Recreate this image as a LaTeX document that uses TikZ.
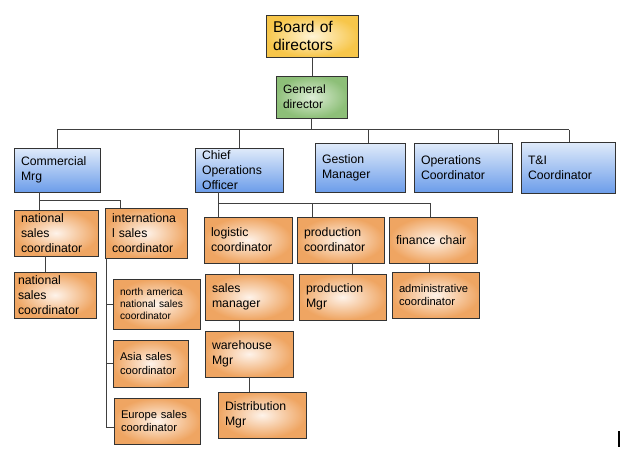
\documentclass[tikz,border=0pt]{standalone}
\usepackage{fontspec}
\setmainfont{Liberation Sans}
\usetikzlibrary{positioning}
\definecolor{yelIn}{HTML}{FFF4D6}
\definecolor{yelOut}{HTML}{F7C64A}
\definecolor{grnIn}{HTML}{DDEDD6}
\definecolor{grnOut}{HTML}{8DBF78}
\definecolor{bluTop}{HTML}{E0EBFA}
\definecolor{bluBot}{HTML}{6C9DEA}
\definecolor{orgIn}{HTML}{FEF3EA}
\definecolor{orgOut}{HTML}{EFA562}

\begin{document}
\begin{tikzpicture}[x=1pt,y=-1pt,
  box/.style n args={3}{draw=black!80, line width=0.7pt, minimum width=#1pt,
    minimum height=#2pt, text width=#3pt, inner xsep=7pt, inner ysep=1pt,
    align=left, font=\fontsize{12.25}{15}\selectfont},
  boardbox/.style={shading=radial, inner color=yelIn, outer color=yelOut},
  gdbox/.style={shading=radial, inner color=grnIn, outer color=grnOut},
  mgrbox/.style={top color=bluTop, bottom color=bluBot},
  subbox/.style={shading=radial, inner color=orgIn, outer color=orgOut},
  small/.style={font=\fontsize{10.2}{12.3}\selectfont},
  smallish/.style={font=\fontsize{11.2}{13.5}\selectfont},
  link/.style={draw=black!75, line width=0.7pt}]
  \useasboundingbox (0,0) rectangle (623,451);

  \node[box={92}{42}{78}, boardbox, font=\fontsize{15.6}{18.7}\selectfont] (board) at (312,36) {Board of\\directors};
  \node[box={71}{42}{57}, gdbox, font=\fontsize{12}{15}\selectfont] (gd) at (311.5,97) {General\\director};

  % managers
  \node[box={86}{44}{72}, mgrbox] (com) at (57,170) {Commercial\\Mrg};
  \node[box={88}{44}{74}, mgrbox] (coo) at (239,170) {Chief\\Operations\\Officer};
  \node[box={90}{49}{76}, mgrbox] (ges) at (360,167.5) {Gestion\\Manager};
  \node[box={98}{49}{84}, mgrbox] (ops) at (463,167.5) {Operations\\Coordinator};
  \node[box={94}{51}{80}, mgrbox] (ti) at (568,167.5) {T\&I\\Coordinator};

  % commercial side
  \node[box={84}{46}{70}, subbox] (nsc1) at (56,233) {national\\sales\\coordinator};
  \node[box={82}{50}{68}, subbox] (isc) at (146,233) {internationa\\l sales\\coordinator};
  \node[box={82}{46}{74}, subbox, inner xsep=4pt] (nsc2) at (55,295) {national\\sales\\coordinator};
  \node[box={87}{50}{73}, subbox, small] (nam) at (156.5,304) {north america\\national sales\\coordinator};
  \node[box={75}{47}{61}, subbox, smallish] (asia) at (150.5,363.5) {Asia sales\\coordinator};
  \node[box={86}{46}{72}, subbox, smallish] (eur) at (157,421) {Europe sales\\coordinator};

  % operations side
  \node[box={88}{46}{74}, subbox] (log) at (248,240) {logistic\\coordinator};
  \node[box={87}{46}{73}, subbox] (prc) at (340.5,240) {production\\coordinator};
  \node[box={88}{46}{74}, subbox] (fin) at (433,240) {finance chair};
  \node[box={88}{46}{74}, subbox] (sal) at (249,297) {sales\\manager};
  \node[box={87}{46}{73}, subbox] (prm) at (342.5,297) {production\\Mgr};
  \node[box={87}{46}{73}, subbox, smallish] (adm) at (435.5,295) {administrative\\coordinator};
  \node[box={88}{46}{74}, subbox] (war) at (249,354) {warehouse\\Mgr};
  \node[box={88}{46}{74}, subbox] (dis) at (262,415) {Distribution\\Mgr};

  \coordinate (gbar) at (312,129.5);
  \coordinate (cbar) at (39,200);
  \coordinate (obar) at (218,203);
  \coordinate (brk) at (107,0);

  \draw[link] (board.south) -- (board.south |- gd.north);
  \draw[link] (gd.south) -- (gd.south |- gbar);
  \draw[link] (com.north |- gbar) -- ([xshift=1pt]ti.north |- gbar);
  \draw[link] (com.north) -- (com.north |- gbar);
  \draw[link] (coo.north) -- (coo.north |- gbar);
  \draw[link] ([xshift=8pt]ges.north) -- ([xshift=8pt]ges.north |- gbar);
  \draw[link] ([xshift=35pt]ops.north) -- ([xshift=35pt]ops.north |- gbar);
  \draw[link] ([xshift=1pt]ti.north) -- ([xshift=1pt]ti.north |- gbar);

  \draw[link] ([xshift=-18pt]com.south) -- ([xshift=-18pt]com.south |- nsc1.north);
  \draw[link] ([xshift=-18pt]com.south |- cbar) -| ([xshift=-26pt]isc.north);
  \draw[link] ([xshift=-11pt]nsc1.south) -- ([xshift=-11pt]nsc1.south |- nsc2.north);
  \draw[link] ([xshift=2pt]isc.south west) |- ([yshift=-6pt]eur.west);
  \draw[link] (nam.west -| brk) -- (nam.west);
  \draw[link] (asia.west -| brk) -- (asia.west);

  \draw[link] ([xshift=-21pt]coo.south) -- ([xshift=-21pt]coo.south |- log.north);
  \draw[link] (obar) -- ([xshift=-3pt]fin.north |- obar);
  \draw[link] ([xshift=-28pt]prc.north) -- ([xshift=-28pt]prc.north |- obar);
  \draw[link] ([xshift=-3pt]fin.north) -- ([xshift=-3pt]fin.north |- obar);
  \draw[link] ([xshift=-9pt]log.south) -- ([xshift=-9pt]log.south |- sal.north);
  \draw[link] ([xshift=-10pt]sal.south) -- ([xshift=-10pt]sal.south |- war.north);
  \draw[link] (war.south) -- (war.south |- dis.north);
  \draw[link] ([xshift=11.5pt]prc.south) -- ([xshift=11.5pt]prc.south |- prm.north);
  \draw[link] ([xshift=-4pt]fin.south) -- ([xshift=-4pt]fin.south |- adm.north);

  \draw[line width=1.6pt] (619,431) -- (619,447);
\end{tikzpicture}
\end{document}
